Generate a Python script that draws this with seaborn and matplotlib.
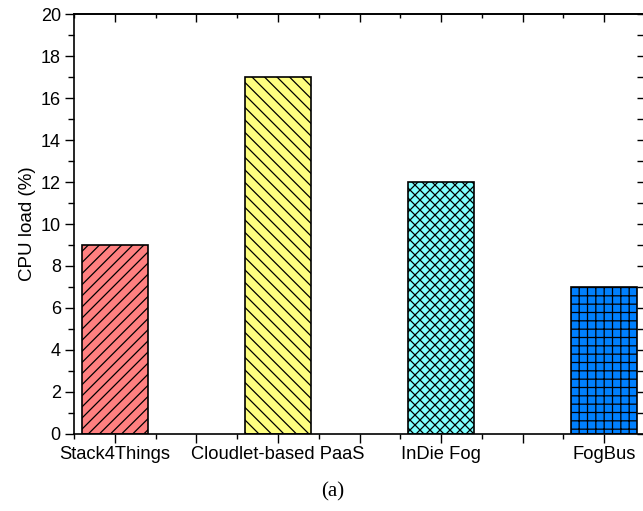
import matplotlib
matplotlib.use("Agg")
import matplotlib.pyplot as plt
import numpy as np
import pandas as pd
import seaborn as sns
from matplotlib.backend_bases import GraphicsContextBase
from matplotlib.ticker import FixedLocator, MultipleLocator

# ---- data ----
platforms = ["Stack4Things", "Cloudlet-based PaaS", "InDie Fog", "FogBus"]
cpu_load = [9, 17, 12, 7]
bar_colors = ["#FF8080", "#FFFF80", "#80FFFF", "#0080FF"]
bar_hatches = ["/" * 18, "\\" * 16, "x" * 20, "+" * 12]
y_ticks = [0, 2, 4, 6, 8, 10, 12, 14, 16, 18, 20]

# hatch strings are given as line counts per inch (one char = one line)
_base_hatch_path = GraphicsContextBase.get_hatch_path


def _hatch_path(self, density=6.0):
    return _base_hatch_path(self, density=1.0)


GraphicsContextBase.get_hatch_path = _hatch_path

sns.set_theme(style="ticks")
plt.rcParams["font.family"] = ["Liberation Sans", "DejaVu Sans"]
plt.rcParams["hatch.linewidth"] = 0.9
plt.rcParams["hatch.color"] = "black"
for key in ["text.color", "axes.labelcolor", "xtick.color", "ytick.color", "axes.edgecolor"]:
    plt.rcParams[key] = "black"

W, H = 643, 511
fig = plt.figure(figsize=(W / 100, H / 100), dpi=100)
ax = fig.add_axes([74 / W, 1 - 434 / H, 571 / W, 420 / H])

df = pd.DataFrame({"platform": platforms, "cpu": cpu_load})
sns.barplot(
    data=df, x="platform", y="cpu", hue="platform", palette=bar_colors,
    saturation=1, width=0.405, edgecolor="black", linewidth=1.2,
    legend=False, ax=ax, zorder=2,
)
for patch, hatch in zip(ax.patches, bar_hatches):
    patch.set_hatch(hatch)

# ---- axes ----
ax.set_xlim(-0.25, 3.25)
ax.set_ylim(0, 20)
ax.set_xlabel("")
ax.set_ylabel("CPU load (%)", fontsize=13.5)
ax.yaxis.set_label_coords(-0.066, 0.5)

x_major = np.arange(0, 3.01, 0.5)
ax.xaxis.set_major_locator(FixedLocator(x_major))
ax.set_xticklabels([platforms[int(p)] if p == int(p) else "" for p in x_major], fontsize=13.2)
ax.xaxis.set_minor_locator(FixedLocator(np.arange(-0.25, 3.3, 0.5)))
ax.yaxis.set_major_locator(FixedLocator(y_ticks))
ax.set_yticklabels([str(v) for v in y_ticks], fontsize=13)
ax.yaxis.set_minor_locator(MultipleLocator(1))

ax.tick_params(axis="x", which="major", direction="out", length=6.5, width=1.0, pad=2)
ax.tick_params(axis="x", which="minor", direction="out", length=3.5, width=1.0)
ax.tick_params(axis="y", which="major", direction="out", length=6.5, width=1.0, pad=3)
ax.tick_params(axis="y", which="minor", direction="out", length=4, width=1.0)
for side in ["left", "bottom", "top", "right"]:
    ax.spines[side].set_visible(True)
    ax.spines[side].set_linewidth(1.2)
    ax.spines[side].set_color("black")

# mirrored ticks on top and right, pointing inwards
top = ax.secondary_xaxis("top")
top.xaxis.set_major_locator(FixedLocator(x_major))
top.xaxis.set_minor_locator(FixedLocator(np.arange(-0.25, 3.3, 0.5)))
top.tick_params(which="major", direction="in", length=5.5, width=1.0, labeltop=False)
top.tick_params(which="minor", direction="in", length=3, width=1.0)
top.spines["top"].set_linewidth(1.2)

right = ax.secondary_yaxis("right")
right.yaxis.set_major_locator(FixedLocator(y_ticks))
right.yaxis.set_minor_locator(MultipleLocator(1))
right.tick_params(which="major", direction="in", length=5.5, width=1.0, labelright=False)
right.tick_params(which="minor", direction="in", length=5.5, width=1.0)

fig.text(0.518, 0.037, "(a)", ha="center", va="center", fontsize=15,
         family=["Liberation Serif", "DejaVu Serif"])

fig.savefig("out.png", dpi=100)
